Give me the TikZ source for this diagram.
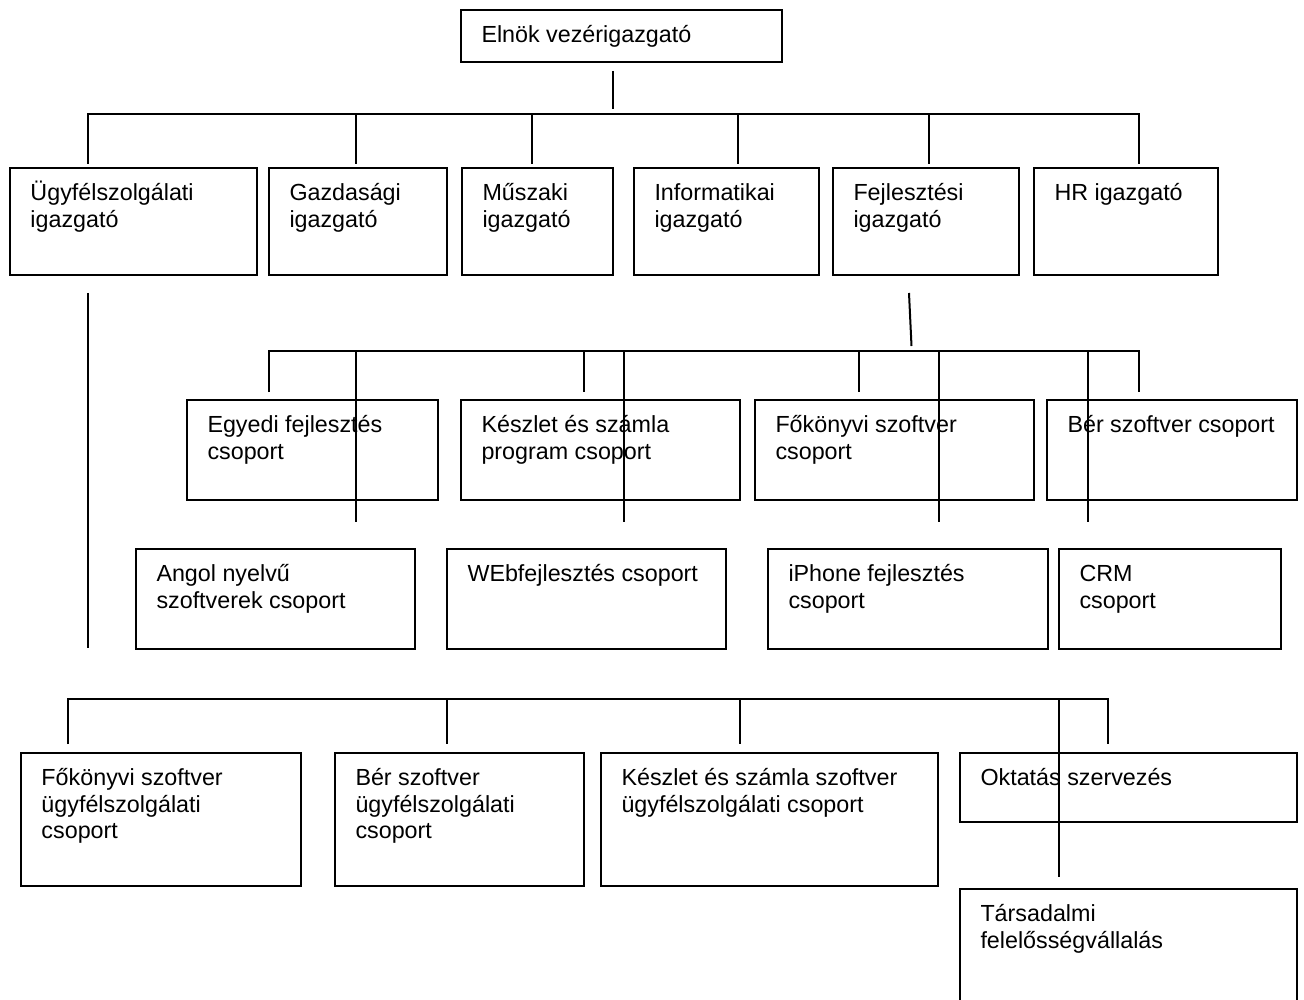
\documentclass[tikz,border=0pt]{standalone}
\usepackage{fontspec}
\setmainfont{Liberation Sans}
\newcommand\tln[1]{\hbox{#1}}
\begin{document}
\begin{tikzpicture}[x=1pt,y=-1pt]
\tikzset{
  box/.style={draw, line width=2pt, rectangle, inner sep=0pt, outer sep=0pt, anchor=north west},
  txt/.style={inner sep=0pt, outer sep=0pt, anchor=base west, font=\fontsize{23.3}{26.7}\selectfont},
  conn/.style={line width=2pt},
}
\newcommand\orgbox[6]{%
  \node[box, minimum width={#4-#2}, minimum height={#5-#3}] (#1) at (#2,#3) {};
  \node[txt] (#1-t) at ([shift={(20.5,32.4)}]#1.north west) {\vtop{#6}};}
\fill[white] (0,0) rectangle (1304,1000);
\useasboundingbox (0,0) rectangle (1304,1000);
\clip (0,0) rectangle (1304,1000);
% top
\orgbox{elnok}{461}{10}{782}{62}{\tln{Elnök vezérigazgató}}
% row 1
\orgbox{ugy}{10}{168}{257}{275}{\tln{Ügyfélszolgálati}\tln{igazgató}}
\orgbox{gazd}{269}{168}{447}{275}{\tln{Gazdasági}\tln{igazgató}}
\orgbox{musz}{462}{168}{613}{275}{\tln{Műszaki}\tln{igazgató}}
\orgbox{info}{634}{168}{819}{275}{\tln{Informatikai}\tln{igazgató}}
\orgbox{fejl}{833}{168}{1019}{275}{\tln{Fejlesztési}\tln{igazgató}}
\orgbox{hr}{1034}{168}{1218}{275}{\tln{HR igazgató}}
% row 2
\orgbox{egyedi}{187}{400}{438}{500}{\tln{Egyedi fejlesztés}\tln{csoport}}
\orgbox{keszlet}{461}{400}{740}{500}{\tln{Készlet és számla}\tln{program csoport}}
\orgbox{fokonyv}{755}{400}{1034}{500}{\tln{Főkönyvi szoftver}\tln{csoport}}
\orgbox{ber}{1047}{400}{1297}{500}{\tln{Bér szoftver csoport}}
% row 3
\orgbox{angol}{136}{549}{415}{649}{\tln{Angol nyelvű}\tln{szoftverek csoport}}
\orgbox{web}{447}{549}{726}{649}{\tln{WEbfejlesztés csoport}}
\orgbox{iphone}{768}{549}{1048}{649}{\tln{iPhone fejlesztés}\tln{csoport}}
\orgbox{crm}{1059}{549}{1281}{649}{\tln{CRM}\tln{csoport}}
% row 4
\orgbox{fkugy}{21}{753}{301}{886}{\tln{Főkönyvi szoftver}\tln{ügyfélszolgálati}\tln{csoport}}
\orgbox{berugy}{335}{753}{584}{886}{\tln{Bér szoftver}\tln{ügyfélszolgálati}\tln{csoport}}
\orgbox{kszugy}{601}{753}{938}{886}{\tln{Készlet és számla szoftver}\tln{ügyfélszolgálati csoport}}
\orgbox{oktatas}{960}{753}{1297}{822}{\tln{Oktatás szervezés}}
\orgbox{tars}{960}{889}{1297}{1010}{\tln{Társadalmi}\tln{felelősségvállalás}}
% connectors: level 1
\coordinate (s0a) at (613,71);
\coordinate (s0b) at (613,109);
\draw[conn] (s0a) -- (s0b);
\coordinate (b1l) at (88,114);
\coordinate (b1r) at (1139,114);
\draw[conn] (88,164) -- (b1l) -- (b1r) -- (1139,164);
\foreach \xx in {356,532,738,929}
  \draw[conn] (\xx,114) -- (\xx,164);
% connectors: level 2
\coordinate (s1a) at (909,293);
\coordinate (s1b) at (911.5,346);
\draw[conn] (s1a) -- (s1b);
\coordinate (b2l) at (269,351);
\coordinate (b2r) at (1139,351);
\draw[conn] (269,392) -- (b2l) -- (b2r) -- (1139,392);
\foreach \xx in {584,859}
  \draw[conn] (\xx,351) -- (\xx,392);
\foreach \xx in {356,624,939,1088}
  \draw[conn] (\xx,351) -- (\xx,522);
% connectors: level 3
\coordinate (s2a) at (88,293);
\coordinate (s2b) at (88,648);
\draw[conn] (s2a) -- (s2b);
\coordinate (b3l) at (68,699);
\coordinate (b3r) at (1108,699);
\draw[conn] (68,744) -- (b3l) -- (b3r) -- (1108,744);
\foreach \xx in {447,740}
  \draw[conn] (\xx,699) -- (\xx,744);
\draw[conn] (1059,699) -- (1059,877);
\end{tikzpicture}
\end{document}
